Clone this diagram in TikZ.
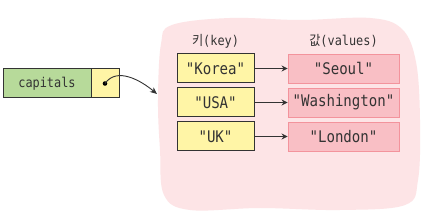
\documentclass[tikz,border=0pt]{standalone}
\usepackage{fontspec}
\setmonofont{DejaVu Sans Mono}
\newfontfamily\tallmono[FakeStretch=0.88]{DejaVu Sans Mono}
\newfontfamily\kr[FakeStretch=0.9]{Noto Sans CJK KR}
\usetikzlibrary{arrows.meta}
\definecolor{blobc}{HTML}{FDE4E6}
\definecolor{greenc}{HTML}{B7DA9A}
\definecolor{yellowc}{HTML}{FFF5A6}
\definecolor{pinkf}{HTML}{F9BFC5}
\definecolor{pinkd}{HTML}{F3939C}
\definecolor{txt}{HTML}{333333}
\tikzset{
  every node/.style={text=txt},
  keybox/.style={draw=txt, line width=1pt, fill=yellowc, minimum width=77pt, minimum height=29pt, inner sep=0pt, font=\tallmono\fontsize{16}{18}\selectfont},
  valbox/.style={draw=pinkd, line width=0.9pt, fill=pinkf, minimum width=111pt, minimum height=29pt, inner sep=0pt, font=\tallmono\fontsize{16}{18}\selectfont},
  hdr/.style={font=\tallmono\fontsize{13.5}{15}\selectfont},
  kv/.style={draw=txt, line width=0.9pt, -{Stealth[length=6pt,width=6pt]}}
}
\begin{document}
\begin{tikzpicture}[x=1pt,y=1pt]
\useasboundingbox (0,0) rectangle (445,214);
\fill[white] (0,0) rectangle (445,214);
% blob
\fill[blobc] plot[smooth cycle, tension=0.6] coordinates {
 (172,189) (230,196) (300,194) (370,196) (402,185) (416,152) (420,94) (418,34) (405,9) (340,4) (260,6) (190,4) (164,19) (160,64) (158,114) (161,170)};
% capitals
\node[draw=txt, line width=1pt, fill=greenc, minimum width=88pt, minimum height=29pt, inner sep=0pt, font=\tallmono\fontsize{13.5}{15}\selectfont] (cap) at (47,130.5) {capitals};
\node[draw=txt, line width=1pt, fill=yellowc, minimum width=28pt, minimum height=29pt, inner sep=0pt] (ptr) at (105,130.5) {};
\fill[black] (ptr.center) circle (2.3pt);
\coordinate (tgt) at (157,120);
\draw[draw=txt, line width=0.9pt, -{Stealth[length=7pt,width=6pt]}] (ptr.center) to[out=55,in=140] (tgt);
% headers
\node[hdr] (hk) at (215.5,173) {{\kr 키}(key)};
\node[hdr] (hv) at (343.5,173) {{\kr 값}(values)};
% keys
\node[keybox] (k1) at (215.5,145.5) {"Korea"};
\node[keybox] (k2) at (215.5,111.5) {"USA"};
\node[keybox] (k3) at (215.5,77.5) {"UK"};
\node[valbox] (v1) at (343.5,145.5) {"Seoul"};
\node[valbox] (v2) at (343.5,111.5) {"Washington"};
\node[valbox] (v3) at (343.5,77.5) {"London"};
\draw[kv] (k1) -- (v1);
\draw[kv] (k2) -- (v2);
\draw[kv] (k3) -- (v3);
\end{tikzpicture}
\end{document}
